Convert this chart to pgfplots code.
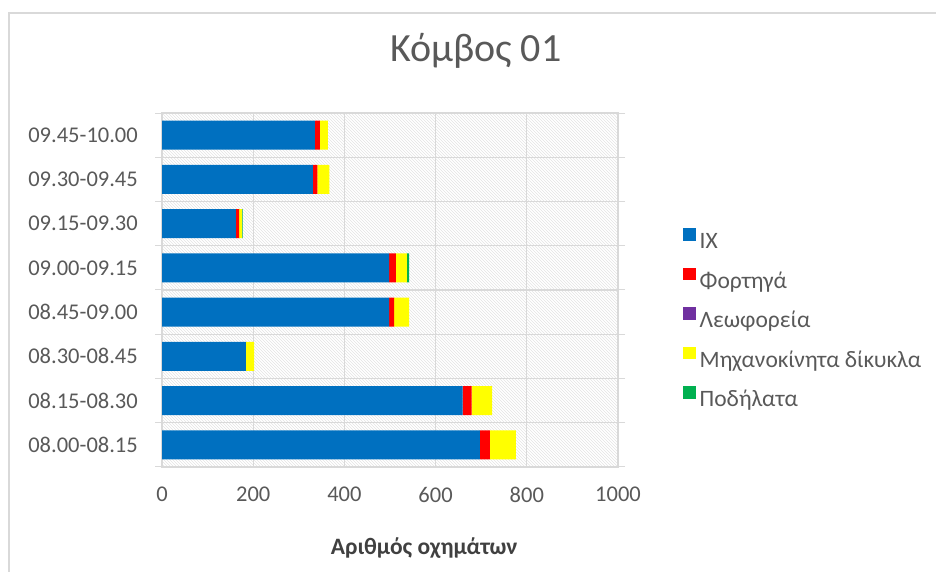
\documentclass[border=0pt]{standalone}
\usepackage{pgfplots}
\pgfplotsset{compat=1.18}
\usepackage{pgfplotstable}
\usepackage{fontspec}
\setmainfont{Carlito}
\usetikzlibrary{patterns}
\definecolor{cIX}{HTML}{0070C0}
\definecolor{cF}{HTML}{FF0000}
\definecolor{cL}{HTML}{7030A0}
\definecolor{cM}{HTML}{FFFF00}
\definecolor{cP}{HTML}{00B050}
\definecolor{txt}{HTML}{595959}
\definecolor{ttl}{HTML}{404040}
\definecolor{gridc}{HTML}{D9D9D9}
\definecolor{hatch}{HTML}{E3E3E3}

\pgfplotstableread{
y IX F L M P
0 697 22 0 57 0
1 659 20 0 45 0
2 184 0 0 18 0
3 498 11 0 33 0
4 498 15 0 24 5
5 162 7 0 6 2
6 331 10 0 26 0
7 335 11 0 18 0
}\data

\begin{document}
\begin{tikzpicture}[x=1pt,y=1pt]
\path[use as bounding box] (0,0) rectangle (936,572);
\draw[gridc, line width=2.5pt] (9,0) -- (9,559) -- (936,559);
\node[anchor=base, text=txt, font=\fontsize{40}{46}\selectfont, inner sep=0pt] at (476,510) {Κόμβος 01};
\begin{axis}[
  at={(162pt,105pt)}, anchor=south west,
  scale only axis, width=456pt, height=354pt,
  xbar stacked, bar width=0.66,
  xmin=0, xmax=1000, ymin=-0.5, ymax=7.5,
  xtick={0,200,...,1000},
  ytick={0,...,7},
  yticklabels={08.00-08.15,08.15-08.30,08.30-08.45,08.45-09.00,09.00-09.15,09.15-09.30,09.30-09.45,09.45-10.00},
  minor ytick={-0.5,0.5,...,7.5},
  major tick length=0pt,
  minor tick length=7pt,
  tick align=outside,
  minor tick style={gridc, line width=1pt},
  xmajorgrids, yminorgrids,
  major grid style={gridc, line width=1.2pt},
  minor grid style={gridc, line width=1.2pt},
  axis line style={gridc, line width=1.2pt},
  axis background/.style={pattern=north west lines, pattern color=hatch},
  /pgf/number format/assume math mode=true,
  /pgf/number format/1000 sep={},
  tick label style={text=txt, font=\fontsize{22.5}{26}\selectfont, inner sep=0pt},
  yticklabel style={xshift=-24pt},
  xticklabel style={yshift=-20pt},
  xlabel={Αριθμός οχημάτων},
  xlabel style={at={(axis description cs:0.575,-0.229)}, anchor=center, text=ttl, font=\fontsize{23.5}{27}\selectfont\bfseries},
  legend cell align=left,
  legend style={at={(1.1425,0.4167)}, anchor=west, draw=none, fill=none, inner sep=0pt,
    nodes={inner sep=0pt, text height=15pt, text depth=4pt, text=txt, font=\fontsize{23.5}{27}\selectfont},
    row sep=15pt, column sep=4pt},
  legend image code/.code={\fill[#1] (0pt,2.5pt) rectangle (12.5pt,15pt);},
]
\addplot[fill=cIX, draw=none] table[x=IX, y=y] {\data};
\addplot[fill=cF, draw=none] table[x=F, y=y] {\data};
\addplot[fill=cL, draw=none] table[x=L, y=y] {\data};
\addplot[fill=cM, draw=none] table[x=M, y=y] {\data};
\addplot[fill=cP, draw=none] table[x=P, y=y] {\data};
\legend{ΙΧ, Φορτηγά, Λεωφορεία, Μηχανοκίνητα δίκυκλα, Ποδήλατα}
\end{axis}
\end{tikzpicture}
\end{document}
